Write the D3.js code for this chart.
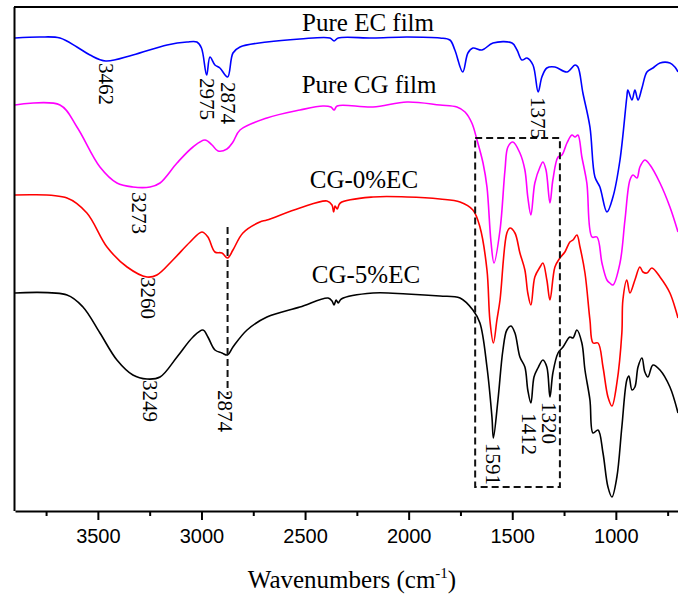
<html>
<head>
  <script src="https://cdn.jsdelivr.net/npm/d3@7"></script>
  <style>
    body { margin:0; background:#fff; }
    text { font-family: "Liberation Serif", "Times New Roman", serif; }
    .tick text { font-family: "Liberation Sans", Arial, sans-serif; }
  </style>
</head>
<body>
<div id="chart"></div>
<script>
// spectra: [wavenumber, transmittance (a.u., stacked)]
var ecFilm = [[3900,473],[3780,474],[3683,473],[3601,464],[3538,456],[3462,450],[3331,456],[3166,466],
  [3070,469],[3022,469],[3000,463],[2975,436],[2959,454],[2935,446],[2911,443],[2874,434],[2848,458],
  [2814,464],[2684,469],[2525,472],[2380,473],[2360,470],[2340,473],[2172,473],[2008,474],[1849,473],
  [1801,471],[1777,461],[1739,439],[1714,458],[1690,463],[1646,461],[1593,468],[1501,468],[1477,461],
  [1453,451],[1429,453],[1400,446],[1375,419],[1357,434],[1333,443],[1294,444],[1236,439],[1197,446],
  [1183,444],[1159,418],[1125,384],[1101,334],[1077,324],[1043,299],[1014,314],[980,351],[947,414],
  [942,421],[922,411],[908,421],[893,411],[874,423],[850,439],[821,443],[787,448],[739,448],[715,444],[700,439]];

var cgFilm = [[3900,406],[3683,406],[3601,384],[3490,344],[3408,328],[3331,324],[3248,324],[3200,328],
  [3118,348],[3041,364],[2983,371],[2949,366],[2920,360],[2877,362],[2848,369],[2814,381],[2684,393],
  [2525,401],[2414,405],[2375,404],[2360,401],[2345,405],[2172,404],[2008,409],[1849,406],[1767,404],
  [1728,399],[1695,388],[1670,371],[1641,348],[1622,324],[1603,270],[1588,248],[1559,281],[1535,341],
  [1521,364],[1497,369],[1463,358],[1439,341],[1425,314],[1410,296],[1391,328],[1366,344],[1352,349],
  [1337,341],[1318,308],[1304,331],[1279,354],[1260,356],[1236,368],[1212,376],[1197,374],[1183,376],
  [1164,354],[1140,328],[1115,274],[1091,274],[1067,248],[1043,231],[1029,228],[1014,226],[980,248],
  [956,291],[932,331],[917,336],[898,333],[884,344],[860,351],[835,346],[787,328],[739,304],[700,279]];

var cg0 = [[3900,316],[3649,313],[3553,298],[3456,264],[3359,244],[3263,234],[3215,236],[3138,251],
  [3055,269],[2998,279],[2969,274],[2935,259],[2901,258],[2874,253],[2848,261],[2800,278],[2718,289],
  [2684,291],[2525,303],[2394,310],[2370,306],[2362,299],[2355,305],[2345,302],[2330,308],[2172,314],
  [2008,314],[1849,312],[1752,309],[1690,301],[1656,284],[1622,241],[1608,191],[1591,168],[1574,191],
  [1559,211],[1526,278],[1511,283],[1487,278],[1463,258],[1439,241],[1425,218],[1410,206],[1391,234],
  [1366,244],[1352,248],[1333,231],[1318,211],[1294,244],[1270,253],[1246,259],[1222,269],[1207,271],
  [1188,276],[1173,264],[1149,238],[1125,191],[1110,168],[1086,168],[1062,144],[1038,114],[1019,105],
  [995,128],[971,178],[966,211],[947,231],[932,218],[908,231],[884,244],[869,239],[850,238],[826,243],
  [787,234],[739,218],[700,193]];

var cg5 = [[3900,218],[3649,216],[3572,204],[3490,178],[3408,151],[3331,136],[3263,132],[3200,134],
  [3118,154],[3041,174],[2993,181],[2969,174],[2935,161],[2901,158],[2874,156],[2848,164],[2780,181],
  [2684,194],[2525,204],[2389,213],[2370,210],[2360,206],[2350,211],[2340,208],[2325,212],[2172,218],
  [2008,217],[1849,215],[1752,213],[1690,201],[1656,188],[1622,144],[1598,94],[1591,73],[1569,111],
  [1545,161],[1526,181],[1506,185],[1487,178],[1463,154],[1439,144],[1425,121],[1410,108],[1395,134],
  [1376,143],[1352,151],[1333,144],[1318,114],[1304,138],[1279,158],[1255,164],[1222,174],[1207,173],
  [1188,181],[1164,168],[1149,141],[1125,111],[1110,78],[1086,81],[1062,58],[1038,24],[1019,14],
  [995,34],[971,84],[947,131],[937,135],[922,121],[908,124],[893,144],[874,153],[860,139],[845,134],
  [821,146],[787,141],[739,124],[700,98]];

var seriesNames = ["Pure EC film", "Pure CG film", "CG-0%EC", "CG-5%EC"];
var seriesColors = ["#0000ff", "#ff00ff", "#ff0000", "#000000"];
var seriesData = [ecFilm, cgFilm, cg0, cg5];
var nameAnchors = [[2196, 480], [2191, 418], [2216, 323], [2206, 228]];

var majorTicks = [3500, 3000, 2500, 2000, 1500, 1000];
var minorTicks = [3750, 3250, 2750, 2250, 1750, 1250, 750];

// peak labels: text, anchor [wavenumber, value] of the top of the rotated text
var peakLabels = [["3462", 3462, 448], ["2975", 2975, 433], ["2874", 2874, 429], ["1375", 1375, 414],
  ["3273", 3300, 319], ["3260", 3260, 234], ["3249", 3249, 131], ["2874", 2885, 121],
  ["1591", 1591, 68], ["1412", 1420, 98], ["1320", 1324, 109]];

var boxRegion = [1679, 1270, 24, 373];   // wn from, wn to, value bottom, value top
var guideLine = [2874, 116, 284];         // wn, value bottom, value top

var W = 678, H = 596;
var x = d3.scaleLinear().domain([3900, 700]).range([15, 678]);
var y = d3.scaleLinear().domain([0, 504]).range([511, 7]);

var svg = d3.select("#chart").append("svg").attr("width", W).attr("height", H);

svg.append("clipPath").attr("id", "clip")
  .append("rect").attr("x", 15).attr("y", 7).attr("width", 663).attr("height", 504);

var line = d3.line().x(function(d) { return x(d[0]); }).y(function(d) { return y(d[1]); })
  .curve(d3.curveCatmullRom.alpha(0.5));

var plot = svg.append("g").attr("clip-path", "url(#clip)");
seriesData.forEach(function(s, i) {
  plot.append("path").datum(s).attr("d", line)
    .attr("fill", "none").attr("stroke", seriesColors[i]).attr("stroke-width", 1.6)
    .attr("stroke-linejoin", "round");
});

// dashed box and guide
svg.append("rect")
  .attr("x", x(boxRegion[0])).attr("y", y(boxRegion[3]))
  .attr("width", x(boxRegion[1]) - x(boxRegion[0])).attr("height", y(boxRegion[2]) - y(boxRegion[3]))
  .attr("fill", "none").attr("stroke", "#111").attr("stroke-width", 2).attr("stroke-dasharray", "7,4");
svg.append("line")
  .attr("x1", x(guideLine[0])).attr("x2", x(guideLine[0]))
  .attr("y1", y(guideLine[2])).attr("y2", y(guideLine[1]))
  .attr("stroke", "#111").attr("stroke-width", 2).attr("stroke-dasharray", "7,4");

// series names
seriesNames.forEach(function(n, i) {
  svg.append("text").attr("x", x(nameAnchors[i][0])).attr("y", y(nameAnchors[i][1]))
    .attr("text-anchor", "middle").style("font-size", "25px").attr("fill", "#000").text(n);
});

// peak labels
peakLabels.forEach(function(p) {
  svg.append("text")
    .attr("transform", "translate(" + x(p[1]) + "," + y(p[2]) + ") rotate(90)")
    .attr("dominant-baseline", "central").style("font-size", "21px").text(p[0]);
});

// frame
svg.append("line").attr("x1", 14.5).attr("x2", 14.5).attr("y1", 7).attr("y2", 511)
  .attr("stroke", "#000").attr("stroke-width", 2);
svg.append("line").attr("x1", 14).attr("x2", 678).attr("y1", 7).attr("y2", 7)
  .attr("stroke", "#000").attr("stroke-width", 2);

var xAxis = svg.append("g").attr("transform", "translate(0,511)")
  .call(d3.axisBottom(x).tickValues(majorTicks).tickFormat(d3.format("d"))
    .tickSize(9).tickSizeOuter(0).tickPadding(9));
xAxis.select(".domain").attr("stroke-width", 2);
xAxis.selectAll(".tick line").attr("stroke-width", 2);
xAxis.selectAll(".tick text").style("font-size", "20px").attr("fill", "#000");

var xMinor = svg.append("g").attr("transform", "translate(0,511)")
  .call(d3.axisBottom(x).tickValues(minorTicks).tickSize(5).tickSizeOuter(0).tickFormat(""));
xMinor.select(".domain").remove();
xMinor.selectAll(".tick line").attr("stroke-width", 2);

var title = svg.append("text").attr("x", 352).attr("y", 588).attr("text-anchor", "middle")
  .style("font-size", "25px");
title.append("tspan").text("Wavenumbers (cm");
title.append("tspan").attr("dy", -10).style("font-size", "15px").text("-1");
title.append("tspan").attr("dy", 10).text(")");
</script>
</body>
</html>
